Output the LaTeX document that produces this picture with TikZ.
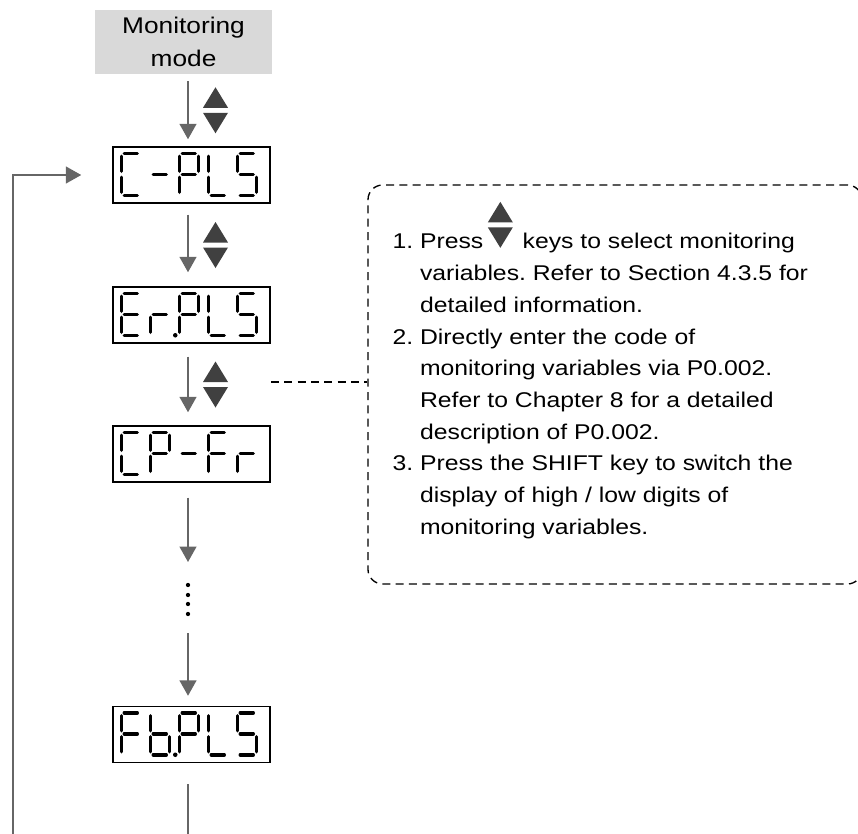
\documentclass[tikz,border=0pt]{standalone}
\usepackage{fontspec}
\setmainfont{Liberation Sans}[FakeStretch=1.16]
\usepackage{xcolor}
\usepackage{tikz}
\usetikzlibrary{arrows.meta, positioning, calc}
\definecolor{flowgray}{RGB}{102, 102, 102}
\definecolor{keygray}{RGB}{64, 64, 64}
\definecolor{modegray}{RGB}{217, 217, 217}
\frenchspacing

% one character of a display: box, slot, segments
\newcommand{\segchar}[3]{%
  \foreach \s in {#3} {
    \pic at ($(#1.north west)+(9+29*#2,7)$) {seg\s};
  }%
}

\begin{document}
\begin{tikzpicture}[x=0.75pt, y=-0.75pt,
    modebox/.style={rectangle, fill=modegray, minimum width=132.75pt, minimum height=48pt, align=center, font=\fontsize{17}{24.75}\selectfont},
    display/.style={rectangle, draw=black, line width=1.1pt, minimum width=117.75pt, minimum height=42pt, inner sep=0pt},
    flow/.style={flowgray, line width=1.5pt, -{Triangle[length=11.5pt, width=12.5pt]}},
    flowline/.style={flowgray, line width=1.5pt},
    seg/.style={line width=2.6pt, line cap=round},
    dashline/.style={draw=black, line width=1pt, dash pattern=on 6pt off 4pt},
    note/.style={dashline, rounded corners=11pt, minimum width=370.5pt, minimum height=299.25pt, inner sep=0pt},
    pics/keys/.style={code={
        \fill[keygray] (-12.5,-2.5) -- (12.5,-2.5) -- (0,-23) -- cycle;
        \fill[keygray] (-12.5,2.5) -- (12.5,2.5) -- (0,23) -- cycle;
    }},
    pics/sega/.style={code={\draw[seg] (3,0) -- (16,0);}},
    pics/segb/.style={code={\draw[seg] (19,3) -- (19,18);}},
    pics/segc/.style={code={\draw[seg] (19,24) -- (19,39);}},
    pics/segd/.style={code={\draw[seg] (3,42) -- (16,42);}},
    pics/sege/.style={code={\draw[seg] (0,24) -- (0,39);}},
    pics/segf/.style={code={\draw[seg] (0,3) -- (0,18);}},
    pics/segg/.style={code={\draw[seg] (3,21) -- (16,21);}},
    pics/segp/.style={code={\fill (25,42) circle (1.7pt);}}
]
\useasboundingbox (0,0) rectangle (858,833);

% Displays
\coordinate (axis) at (188,0);
\node[modebox] (mode) at (183.5,42) {Monitoring\\mode};
\node[display] (cpls) at (191.5,175) {};
\node[display] (erpls) at (191.5,315) {};
\node[display] (cpfr) at (191.5,454) {};
\node[display] (fbpls) at (191.5,734.5) {};

% C-PLS
\segchar{cpls}{0}{a,d,e,f}
\segchar{cpls}{1}{g}
\segchar{cpls}{2}{a,b,e,f,g}
\segchar{cpls}{3}{d,e,f}
\segchar{cpls}{4}{a,c,d,f,g}
% Er.PLS
\segchar{erpls}{0}{a,d,e,f,g}
\segchar{erpls}{1}{e,g,p}
\segchar{erpls}{2}{a,b,e,f,g}
\segchar{erpls}{3}{d,e,f}
\segchar{erpls}{4}{a,c,d,f,g}
% CP-Fr
\segchar{cpfr}{0}{a,d,e,f}
\segchar{cpfr}{1}{a,b,e,f,g}
\segchar{cpfr}{2}{g}
\segchar{cpfr}{3}{a,e,f,g}
\segchar{cpfr}{4}{e,g}
% Fb.PLS
\segchar{fbpls}{0}{a,e,f,g}
\segchar{fbpls}{1}{c,d,e,f,g,p}
\segchar{fbpls}{2}{a,b,e,f,g}
\segchar{fbpls}{3}{d,e,f}
\segchar{fbpls}{4}{a,c,d,f,g}

% Flow
\draw[flow, shorten <=5.25pt, shorten >=5.25pt] (mode.south -| axis) -- (cpls.north -| axis);
\draw[flow, shorten <=8.25pt, shorten >=10.5pt] (cpls.south -| axis) -- (erpls.north -| axis);
\draw[flow, shorten <=9.75pt, shorten >=9.75pt] (erpls.south -| axis) -- (cpfr.north -| axis);
\coordinate (dotstop) at (188,562);
\coordinate (dotsbottom) at (188,633);
\draw[flow, shorten <=11.25pt] (cpfr.south -| axis) -- (dotstop);
\foreach \y in {585,595,604,614} {
    \fill (188,\y) circle (1.6pt);
}
\draw[flow, shorten >=7.5pt] (dotsbottom) -- (fbpls.north -| axis);
\coordinate (tailfoot) at (188,840);
\draw[flowline, shorten <=15.75pt] (fbpls.south -| axis) -- (tailfoot);
\coordinate (loopfoot) at (13,840);
\draw[flow, shorten >=23.25pt] (loopfoot) |- (cpls.west);

% Keys
\pic at ($(mode.south -| axis)!0.5!(cpls.north -| axis)+(27.5,0)$) {keys};
\pic at ($(cpls.south -| axis)!0.5!(erpls.north -| axis)+(27.5,0)$) {keys};
\pic at ($(erpls.south -| axis)!0.5!(cpfr.north -| axis)+(27.5,0)$) {keys};

% Note
\node[note] (note) at (615,384.5) {};
\node[anchor=north west, inner sep=0pt, font=\fontsize{16}{23.8}\selectfont] (notetext) at ($(note.north west)+(25,42)$) {%
\begin{tabular}{@{}l@{\ }l@{}}
1. & Press\hspace{29.5pt}keys to select monitoring\\
   & variables. Refer to Section 4.3.5 for\\
   & detailed information.\\
2. & Directly enter the code of\\
   & monitoring variables via P0.002.\\
   & Refer to Chapter 8 for a detailed\\
   & description of P0.002.\\
3. & Press the SHIFT key to switch the\\
   & display of high / low digits of\\
   & monitoring variables.
\end{tabular}};
\pic at ($(notetext.north west)+(108,-1.5)$) {keys};
\coordinate (tap) at (271,382);
\draw[dashline] (tap) -- (tap -| note.west);

\end{tikzpicture}
\end{document}
